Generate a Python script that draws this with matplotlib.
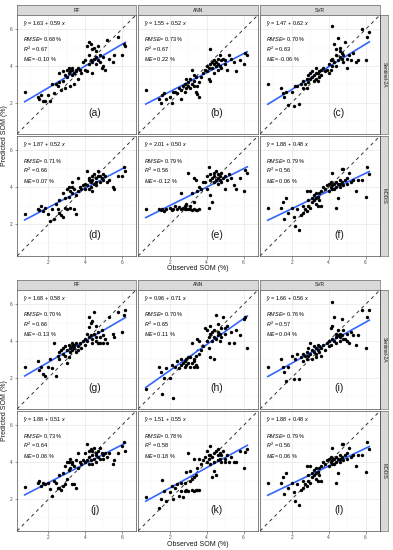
import matplotlib
matplotlib.use('Agg')
import matplotlib.pyplot as plt
import numpy as np

plt.rcParams['font.family'] = ['Liberation Sans', 'DejaVu Sans']
plt.rcParams['mathtext.fontset'] = 'custom'
plt.rcParams['mathtext.rm'] = 'Liberation Sans'
plt.rcParams['mathtext.it'] = 'Liberation Sans:italic'

W, H = 393, 550

models = ['RF', 'ANN', 'SVR']
sensors = ['Sentinel-2A', 'MODIS']
tags = ['(a)', '(b)', '(c)', '(d)', '(e)', '(f)',
        '(g)', '(h)', '(i)', '(j)', '(k)', '(l)']

ticks = [2, 4, 6]
minor_ticks = [1, 3, 5]

# observed SOM (%), same samples in every panel
observed = [0.7, 1.4, 1.5, 1.6, 1.7, 1.8, 2.0, 2.1, 2.2, 2.3,
            2.4, 2.5, 2.6, 2.6, 2.7, 2.8, 2.8, 2.9, 2.9, 3.0,
            3.0, 3.1, 3.1, 3.2, 3.2, 3.3, 3.3, 3.3, 3.4, 3.4,
            3.5, 3.5, 3.6, 3.6, 3.7, 3.8, 3.9, 4.0, 4.0, 4.1,
            4.1, 4.2, 4.2, 4.2, 4.3, 4.3, 4.4, 4.4, 4.4, 4.5,
            4.5, 4.6, 4.6, 4.6, 4.7, 4.7, 4.8, 4.8, 4.9, 5.0,
            5.0, 5.1, 5.2, 5.3, 5.5, 5.6, 5.8, 6.0, 6.1, 6.2]

# predicted SOM (%) per panel
pred_a = [2.6, 2.3, 2.2, 2.4, 2.1, 2.1, 2.4, 2.1, 3.0, 2.5,
          3.0, 2.9, 3.1, 3.6, 2.7, 3.7, 3.2, 2.8, 3.5, 3.4,
          3.8, 3.6, 3.9, 3.7, 2.9, 3.8, 3.5, 3.9, 3.6, 3.0,
          3.8, 3.7, 3.9, 3.3, 3.8, 3.6, 4.2, 3.8, 4.3, 3.7,
          5.1, 5.3, 4.1, 4.6, 5.2, 4.3, 3.6, 4.9, 4.2, 5.0,
          4.4, 4.8, 4.1, 4.5, 4.3, 5.1, 4.2, 4.6, 3.9, 4.0,
          4.5, 3.8, 5.4, 4.4, 4.2, 4.6, 5.6, 4.6, 5.2, 5.1]
pred_b = [2.7, 2.2, 2.0, 2.4, 2.5, 2.2, 2.3, 2.0, 2.6, 2.6,
          2.5, 2.8, 2.7, 2.2, 2.9, 2.6, 3.0, 2.8, 3.3, 2.9,
          3.1, 3.3, 2.8, 3.8, 3.0, 3.2, 3.5, 2.9, 3.4, 2.6,
          2.9, 2.45, 3.1, 2.3, 3.4, 3.6, 3.8, 4.0, 3.7, 3.9,
          3.3, 4.1, 3.2, 4.9, 3.9, 4.2, 4.1, 3.6, 4.3, 4.0,
          4.2, 3.8, 4.4, 4.1, 4.6, 4.0, 4.3, 3.9, 4.4, 4.1,
          4.3, 3.8, 4.6, 4.4, 4.2, 3.7, 4.3, 4.1, 4.7, 4.6]
pred_c = [3.0, 2.8, 2.5, 2.3, 2.6, 1.85, 2.6, 1.8, 2.9, 2.9,
          1.9, 3.0, 2.8, 3.2, 3.0, 3.3, 2.8, 3.1, 3.5, 3.3,
          3.6, 3.4, 3.7, 3.5, 3.2, 3.6, 3.9, 3.3, 3.6, 3.2,
          3.7, 3.4, 3.8, 3.5, 3.9, 3.7, 3.8, 4.1, 3.6, 4.3,
          3.8, 6.2, 4.0, 4.4, 5.2, 4.2, 4.6, 4.0, 4.9, 5.5,
          4.3, 4.8, 4.5, 5.0, 4.4, 4.7, 4.2, 4.6, 5.3, 4.4,
          3.9, 4.6, 4.3, 4.7, 4.2, 4.3, 6.0, 4.3, 5.6, 5.85]
pred_d = [2.55, 2.8, 2.75, 3.0, 2.7, 2.9, 2.55, 2.2, 2.85, 2.3,
          3.1, 2.85, 2.6, 3.3, 2.5, 3.7, 2.4, 2.9, 3.4, 3.9,
          2.85, 4.0, 3.5, 3.8, 2.9, 4.3, 3.7, 4.0, 3.9, 2.8,
          2.55, 3.6, 4.5, 3.8, 4.0, 3.9, 4.1, 4.2, 3.9, 4.9,
          4.1, 4.4, 3.9, 4.5, 4.3, 4.0, 4.6, 3.8, 4.4, 4.7,
          4.2, 4.3, 4.5, 4.1, 4.6, 4.9, 4.6, 4.3, 4.5, 4.4,
          4.7, 4.6, 4.3, 4.4, 4.0, 3.9, 4.6, 4.6, 5.1, 4.9]
pred_e = [2.8, 2.8, 2.75, 2.85, 2.7, 2.8, 2.9, 2.75, 2.8, 3.0,
          2.85, 2.95, 2.8, 3.7, 2.9, 3.0, 2.8, 3.1, 2.85, 4.8,
          2.8, 3.0, 2.8, 3.7, 2.75, 4.5, 2.8, 3.2, 4.4, 2.75,
          2.75, 3.8, 4.0, 2.8, 3.9, 4.3, 4.3, 3.9, 4.6, 5.1,
          2.9, 3.6, 4.4, 4.7, 3.2, 4.5, 4.8, 4.3, 4.6, 4.4,
          4.9, 4.5, 4.2, 4.7, 4.4, 4.6, 4.3, 4.8, 4.5, 3.9,
          4.6, 4.4, 4.7, 4.5, 4.1, 3.9, 4.5, 3.8, 4.95, 4.75]
pred_f = [2.9, 2.9, 3.2, 2.3, 3.4, 2.6, 2.9, 2.4, 1.9, 2.8,
          1.7, 2.5, 2.6, 3.0, 2.8, 3.8, 2.7, 3.0, 3.3, 3.8,
          2.9, 3.4, 3.2, 3.3, 3.6, 3.4, 3.1, 3.7, 3.5, 3.0,
          3.7, 3.3, 3.0, 3.8, 4.0, 3.9, 4.1, 3.8, 4.2, 4.0,
          4.3, 4.75, 3.9, 4.1, 4.2, 3.9, 4.3, 2.9, 4.0, 3.4,
          4.2, 4.4, 4.0, 4.2, 5.0, 4.3, 4.1, 5.0, 4.4, 4.2,
          4.5, 4.8, 4.3, 4.4, 3.8, 4.4, 4.4, 3.5, 5.1, 4.7]
pred_g = [2.6, 2.9, 2.4, 2.6, 2.2, 2.1, 2.6, 3.0, 2.5, 3.9,
          2.1, 3.2, 3.4, 3.0, 3.5, 3.3, 3.6, 3.2, 3.7, 2.8,
          3.5, 3.1, 3.8, 3.6, 3.4, 3.7, 3.9, 3.5, 3.6, 3.8,
          3.4, 3.9, 3.7, 3.5, 3.9, 3.6, 4.0, 4.1, 3.8, 4.4,
          4.0, 5.3, 4.75, 4.2, 5.0, 4.3, 4.1, 5.1, 3.9, 5.6,
          4.4, 4.8, 4.2, 4.0, 4.5, 3.9, 4.2, 3.9, 4.6, 3.9,
          4.3, 4.1, 3.9, 5.3, 4.4, 4.2, 5.6, 4.5, 5.4, 5.7]
pred_h = [1.35, 2.6, 2.3, 1.1, 2.0, 2.5, 2.0, 2.7, 0.9, 2.6,
          2.9, 2.5, 2.7, 3.0, 2.8, 2.6, 2.9, 3.0, 2.7, 2.8,
          3.1, 2.6, 3.1, 3.9, 2.8, 2.6, 3.0, 2.9, 2.7, 3.2,
          4.1, 2.6, 4.0, 3.3, 3.5, 3.7, 4.7, 4.6, 4.0, 4.2,
          3.6, 3.1, 4.4, 4.8, 4.0, 4.5, 3.0, 4.2, 4.6, 5.4,
          4.1, 4.3, 4.9, 4.5, 4.4, 4.0, 4.7, 4.2, 5.3, 4.7,
          4.4, 4.8, 3.9, 4.5, 3.9, 4.6, 4.3, 5.2, 5.3, 3.6]
pred_i = [2.6, 3.0, 2.6, 2.3, 1.8, 2.6, 3.2, 1.9, 3.0, 3.3,
          1.9, 3.1, 3.3, 2.9, 3.2, 3.0, 3.4, 3.2, 3.6, 3.9,
          3.3, 3.5, 3.0, 3.4, 3.7, 3.3, 3.6, 3.1, 3.5, 3.8,
          3.4, 3.7, 3.6, 3.2, 3.8, 3.5, 3.9, 3.7, 4.0, 4.7,
          3.8, 6.1, 4.8, 4.1, 5.3, 4.0, 4.2, 4.4, 3.9, 4.3,
          4.6, 4.2, 4.4, 4.0, 5.2, 4.3, 4.6, 4.1, 4.1, 4.4,
          4.0, 3.9, 4.5, 4.3, 3.8, 4.3, 5.7, 3.6, 5.3, 5.7]
pred_j = [2.65, 2.9, 3.0, 2.7, 2.9, 2.8, 2.9, 2.55, 2.2, 3.0,
          2.9, 2.6, 2.6, 3.3, 2.5, 3.4, 2.7, 3.8, 2.8, 4.0,
          3.1, 4.0, 3.6, 4.2, 3.7, 3.9, 2.8, 4.0, 3.8, 2.8,
          2.6, 4.1, 4.5, 3.7, 4.0, 3.9, 4.1, 4.5, 4.0, 5.0,
          4.1, 3.9, 4.6, 4.3, 4.7, 4.1, 4.4, 3.9, 4.6, 4.8,
          4.2, 4.4, 4.0, 4.5, 4.3, 4.6, 4.8, 4.2, 4.5, 4.4,
          4.2, 4.5, 4.3, 4.5, 3.9, 4.1, 4.5, 4.9, 5.1, 4.6]
pred_k = [2.1, 1.55, 2.0, 3.05, 2.45, 1.9, 2.4, 2.7, 2.0, 2.6,
          2.8, 2.2, 2.45, 2.9, 2.1, 2.9, 2.45, 3.5, 2.5, 4.5,
          2.45, 3.55, 3.0, 3.1, 2.5, 4.2, 3.2, 2.45, 3.3, 2.5,
          3.7, 2.5, 4.2, 2.5, 3.9, 4.1, 4.3, 4.6, 4.0, 4.4,
          4.2, 4.9, 3.9, 4.4, 3.2, 4.3, 3.55, 4.5, 4.0, 3.3,
          4.6, 4.4, 4.1, 4.7, 4.5, 4.2, 4.4, 4.0, 4.6, 4.0,
          4.2, 4.4, 4.0, 4.3, 4.0, 4.0, 4.6, 3.7, 4.55, 4.7]
pred_l = [2.9, 2.9, 3.2, 2.3, 3.4, 2.6, 2.9, 2.4, 1.9, 2.8,
          1.7, 2.5, 2.6, 3.0, 2.8, 3.8, 2.7, 3.0, 3.3, 3.8,
          2.9, 3.4, 3.2, 3.3, 3.6, 3.4, 3.1, 3.7, 3.5, 3.0,
          3.7, 3.3, 3.0, 3.8, 4.0, 3.9, 4.1, 3.8, 4.2, 4.0,
          4.3, 4.75, 3.9, 4.1, 4.2, 3.9, 4.3, 2.9, 4.0, 3.4,
          4.2, 4.4, 4.0, 4.2, 5.0, 4.3, 4.1, 5.0, 4.4, 4.2,
          4.5, 4.8, 4.3, 4.4, 3.8, 4.4, 4.4, 3.5, 5.1, 4.7]

predicted = [pred_a, pred_b, pred_c, pred_d, pred_e, pred_f,
             pred_g, pred_h, pred_i, pred_j, pred_k, pred_l]

intercepts = [1.63, 1.55, 1.47, 1.87, 2.01, 1.88, 1.68, 0.96, 1.66, 1.88, 1.51, 1.88]
slopes = [0.59, 0.52, 0.62, 0.52, 0.50, 0.48, 0.58, 0.71, 0.56, 0.51, 0.55, 0.48]
rmse = ['0.68', '0.73', '0.70', '0.71', '0.79', '0.79', '0.70', '0.70', '0.76', '0.73', '0.78', '0.79']
r2 = ['0.67', '0.67', '0.63', '0.66', '0.56', '0.56', '0.66', '0.65', '0.57', '0.64', '0.58', '0.56']
me = ['-0.10', '0.22', '-0.06', '0.07', '-0.12', '0.06', '-0.13', '0.11', '0.04', '0.06', '0.18', '0.06']

LIM = (0.28, 6.78)
COL_X = [(17, 136), (138, 258), (260, 380)]
ROW_Y = [(15, 134), (136, 256)]
BLOCK_DY = 275


def px_axes(fig, x0, y0, x1, y1):
    return fig.add_axes([x0 / W, 1 - y1 / H, (x1 - x0) / W, (y1 - y0) / H])


def strip(ax, label, rotation=0):
    ax.set_facecolor('#D9D9D9')
    ax.set_xticks([])
    ax.set_yticks([])
    for s in ax.spines.values():
        s.set_color('#4D4D4D')
        s.set_linewidth(0.4)
    ax.text(0.5, 0.5, label, transform=ax.transAxes, ha='center', va='center',
            fontsize=3.5, color='#1A1A1A', rotation=rotation)


def draw_panel(ax, i, left, bottom):
    ax.set_xlim(*LIM)
    ax.set_ylim(*LIM)
    ax.set_xticks(ticks)
    ax.set_yticks(ticks)
    ax.set_xticks(minor_ticks, minor=True)
    ax.set_yticks(minor_ticks, minor=True)
    ax.grid(which='major', color='#E8E8E8', linewidth=0.5)
    ax.grid(which='minor', color='#F3F3F3', linewidth=0.3)
    ax.set_axisbelow(True)

    # 1:1 reference line
    ax.plot(list(LIM), list(LIM), color='#333333', linestyle=(0, (3.5, 3.5)),
            linewidth=0.7, zorder=2)
    xs = np.array([min(observed), max(observed)])
    ax.plot(xs, intercepts[i] + slopes[i] * xs, color='#3366FF', linewidth=1.2, zorder=2.5)
    ax.scatter(observed, predicted[i], s=6, color='black', linewidths=0, zorder=3)

    ax.text(0.6, 6.27, r'$\hat{y}$' + f' = {intercepts[i]:.2f} + {slopes[i]:.2f} ' + r'$x$',
            fontsize=4, va='center')
    ax.text(0.6, 5.45, r'$RMSE$' + f'= {rmse[i]} %', fontsize=4, va='center')
    ax.text(0.6, 4.9, r'$R^2$' + f' = {r2[i]}', fontsize=4, va='center')
    ax.text(0.6, 4.35, r'$ME$' + f'= {me[i]} %', fontsize=4, va='center')
    ax.text(4.55, 1.4, tags[i], fontsize=7.5, ha='center', va='center', color='#1A1A1A')

    for s in ax.spines.values():
        s.set_color('#4D4D4D')
        s.set_linewidth(0.5)
    ax.tick_params(which='major', length=1.8, width=0.4, color='#4D4D4D',
                   labelsize=3.5, labelcolor='#4D4D4D', pad=1.2)
    ax.tick_params(which='minor', length=0)
    if not left:
        ax.tick_params(axis='y', which='both', left=False, labelleft=False)
    if not bottom:
        ax.tick_params(axis='x', which='both', bottom=False, labelbottom=False)


fig = plt.figure(figsize=(W / 100, H / 100), dpi=100)

for b in range(2):
    dy = b * BLOCK_DY
    for c, model in enumerate(models):
        x0, x1 = COL_X[c]
        strip(px_axes(fig, x0, 5 + dy, x1, 15 + dy), model)
    for r, sensor in enumerate(sensors):
        y0, y1 = ROW_Y[r]
        strip(px_axes(fig, 380, y0 + dy, 388, y1 + dy), sensor, rotation=-90)
        for c in range(3):
            x0, x1 = COL_X[c]
            ax = px_axes(fig, x0, y0 + dy, x1, y1 + dy)
            draw_panel(ax, b * 6 + r * 3 + c, c == 0, r == 1)
    fig.text(198 / W, 1 - (269 + dy) / H, 'Observed SOM (%)', ha='center', va='center',
             fontsize=5, color='#1A1A1A')
    fig.text(5 / W, 1 - (135.5 + dy) / H, 'Predicted SOM (%)', ha='center', va='center',
             fontsize=5, color='#1A1A1A', rotation=90)

fig.savefig('out.png', dpi=100)
plt.close(fig)
